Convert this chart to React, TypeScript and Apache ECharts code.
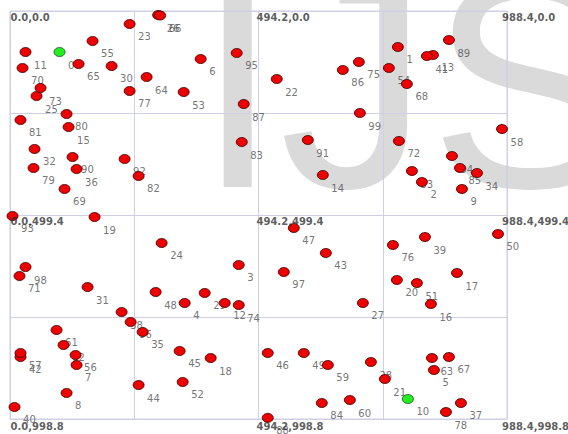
import { useEffect, useRef } from "react";
import * as echarts from "echarts";

// Point coordinates, indexed by point id (0..99)
const pointX = [
  98.5, 771.4, 819.2, 454.9, 347.4, 843.1, 379.2, 132.4, 112.5, 898.8,
  791.3, 30.9, 427.0, 841.1, 622.1, 116.5, 837.1, 888.9, 399.1, 168.2,
  769.4, 745.5, 530.5, 237.9, 301.6, 52.8, 294.6, 701.7, 717.7, 387.2,
  202.1, 154.3, 48.8, 799.3, 928.7, 263.8, 132.4, 896.8, 222.0, 825.2,
  9.0, 829.1, 20.9, 628.1, 255.8, 337.4, 512.6, 564.4, 289.7, 584.3,
  970.5, 809.2, 343.4, 345.4, 753.5, 164.2, 130.4, 20.9, 978.5, 632.1,
  675.9, 92.6, 106.5, 839.1, 271.7, 136.4, 298.6, 872.9, 789.3, 108.5,
  24.9, 18.9, 773.4, 60.7, 454.9, 693.8, 761.5, 237.9, 867.0, 46.8,
  112.5, 20.9, 255.8, 460.9, 620.1, 894.8, 661.9, 464.8, 512.6, 872.9,
  124.4, 592.3, 227.9, 5.0, 878.9, 450.9, 239.9, 544.5, 30.9, 695.8,
];
const pointY = [
  100.4, 88.1, 418.6, 621.8, 714.8, 878.8, 117.5, 866.6, 935.1, 435.7,
  949.8, 100.4, 714.8, 107.7, 401.5, 284.0, 717.3, 641.4, 849.5, 504.3,
  658.5, 900.9, 166.5, 31.8, 567.9, 208.1, 9.8, 714.8, 859.3, 690.3,
  134.6, 675.7, 337.8, 391.7, 396.6, 785.8, 386.8, 959.6, 736.9, 553.3,
  969.4, 110.2, 847.0, 592.4, 915.6, 832.3, 837.2, 531.2, 687.9, 837.2,
  545.9, 665.9, 908.2, 198.3, 139.5, 73.4, 842.1, 837.2, 288.9, 866.6,
  952.3, 780.9, 817.6, 849.5, 161.6, 129.7, 11.0, 847.0, 178.7, 435.7,
  139.5, 648.7, 318.2, 188.5, 719.8, 124.8, 572.8, 195.8, 981.7, 384.3,
  252.1, 266.8, 403.9, 320.7, 959.6, 384.3, 144.4, 227.7, 996.0, 71.0,
  357.4, 315.8, 362.3, 501.8, 355.0, 102.8, 761.3, 638.9, 626.7, 249.7,
];
const highlightedIds = [0, 10];

// Extent of the field and the coordinates marked at its corners / midpoints
const xMax = 988.4;
const yMax = 998.8;
const markX = [0, 494.2, 988.4];
const markY = [0, 499.4, 998.8];

export default function App() {
  const ref = useRef<HTMLDivElement>(null);

  useEffect(() => {
    if (!ref.current) return;
    const chart = echarts.init(ref.current, null, { renderer: "svg" });

    const labelData = pointX.map((x, i) => ({ value: [x, pointY[i]], name: String(i) }));
    const pointData = pointX.map((x, i) => ({
      value: [x, pointY[i]],
      name: String(i),
      itemStyle: highlightedIds.includes(i)
        ? { color: "#22ee22", borderColor: "#1a4d1a" }
        : undefined,
    }));

    const dxFor = [0.5, -2, -5];
    const dyFor = [6.5, 6, 7.5];
    const markData: any[] = [];
    markY.forEach((y, r) => {
      markX.forEach((x, c) => {
        markData.push({
          value: [x, y],
          label: { position: [dxFor[c] + 0.5, dyFor[r] + 0.5] },
        });
      });
    });

    const gridLine = { show: true, lineStyle: { color: "#cfcfe6", width: 1 } };

    chart.setOption({
      animation: false,
      graphic: [
        {
          type: "text",
          z: -10,
          silent: true,
          x: 196,
          y: 83,
          style: {
            text: "IJS",
            font: '300px "Liberation Sans", Arial, sans-serif',
            fill: "#dadada",
            align: "left",
            verticalAlign: "middle",
          },
        },
      ],
      grid: {
        left: 10,
        top: 11,
        width: 497,
        height: 408,
        show: true,
        borderColor: "#cfcfe6",
        borderWidth: 1,
        backgroundColor: "transparent",
      },
      xAxis: {
        type: "value",
        min: 0,
        max: xMax,
        interval: xMax / 4,
        axisLabel: { show: false },
        axisTick: { show: false },
        axisLine: { show: false },
        splitLine: gridLine,
      },
      yAxis: {
        type: "value",
        inverse: true,
        min: 0,
        max: yMax,
        interval: yMax / 4,
        axisLabel: { show: false },
        axisTick: { show: false },
        axisLine: { show: false },
        splitLine: gridLine,
      },
      series: [
        {
          // point ids, drawn beneath the markers
          type: "scatter",
          z: 2,
          silent: true,
          symbolSize: 1,
          itemStyle: { color: "rgba(0,0,0,0)" },
          data: labelData,
          label: {
            show: true,
            position: [9, 13.5],
            align: "left",
            verticalAlign: "middle",
            formatter: (p: any) => p.name,
            fontFamily: "DejaVu Sans",
            fontSize: 10,
            color: "#505050",
          },
        },
        {
          type: "scatter",
          z: 3,
          silent: true,
          symbol: "circle",
          symbolSize: [11, 9],
          itemStyle: { color: "#ee0000", borderColor: "#3a0000", borderWidth: 0.8, opacity: 1 },
          data: pointData,
        },
        {
          // coordinate marks at corners and midpoints
          type: "scatter",
          z: 4,
          silent: true,
          symbolSize: 1,
          itemStyle: { color: "rgba(0,0,0,0)" },
          data: markData,
          label: {
            show: true,
            align: "left",
            verticalAlign: "middle",
            formatter: (p: any) => `${p.value[0].toFixed(1)},${p.value[1].toFixed(1)}`,
            fontFamily: "DejaVu Sans",
            fontWeight: "bold",
            fontSize: 10,
            color: "#333333",
          },
        },
      ],
    });

    return () => chart.dispose();
  }, []);

  return (
    <div
      ref={ref}
      style={{ position: "absolute", left: 0, top: 0, width: 568, height: 434 }}
    />
  );
}
